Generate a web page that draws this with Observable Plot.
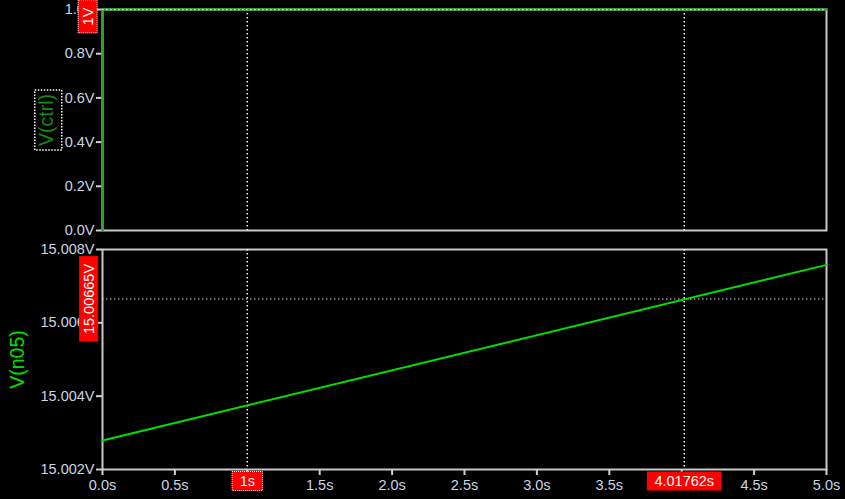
<!DOCTYPE html>
<html><head><meta charset="utf-8">
<script src="https://cdn.jsdelivr.net/npm/d3@7"></script>
<script src="https://cdn.jsdelivr.net/npm/@observablehq/plot@0.6"></script>
<style>
html,body{margin:0;padding:0;background:#000;}
#chart{position:relative;width:845px;height:499px;background:#000;overflow:hidden;}
#chart svg{position:absolute;left:0;display:block;}
</style></head><body><div id="chart"></div>
<script>
// ---- data ----
const timeCtrl = [0, 0, 5];
const valueCtrl = [0, 1, 1];
const timeN05 = [0, 5];
const valueN05 = [15.00279, 15.00758];
const cursorTimes = [1, 4.01762];
const cursorTimeLabels = ["1s", "4.01762s"];
const cursorCtrlValue = [1];
const cursorCtrlLabel = ["1V"];
const cursorN05Value = [15.00665];
const cursorN05Label = ["15.00665V"];
const selectedCursorLabels = ["1V", "1s"];
const timeTicks = [0, 0.5, 1, 1.5, 2, 2.5, 3, 3.5, 4, 4.5, 5];
const ctrlTicks = [0, 0.2, 0.4, 0.6, 0.8, 1.0];
const n05Ticks = [15.002, 15.004, 15.006, 15.008];
const ctrlName = ["V(ctrl)"];
const n05Name = ["V(n05)"];

// ---- styles ----
const FONT = "Liberation Sans";
const TICK_TEXT = "#c8d6e4";
const TICK_LINE = "#d0d0d0";
const FRAME = "#c8c8c8";
const CTRL_GREEN = "#33a033";
const CTRL_TITLE = "#168816";
const N05_GREEN = "#00e000";
const dotted = {stroke: "#ffffff", strokeWidth: 1.5, strokeDasharray: "1.5,2.5"};
const baseStyle = {background: "#000", color: TICK_TEXT, fontFamily: FONT, fontSize: "14.5px"};

const ctrlIdx = d3.range(timeCtrl.length);
const n05Idx = d3.range(timeN05.length);

const topPlot = Plot.plot({
  width: 845, height: 240,
  marginLeft: 102, marginRight: 19, marginTop: 9, marginBottom: 10,
  style: baseStyle,
  x: {domain: [0, 5], axis: null},
  y: {domain: [0, 1], axis: null},
  marks: [
    Plot.frame({stroke: FRAME, strokeWidth: 2}),
    Plot.axisY({ticks: ctrlTicks, tickFormat: d => d.toFixed(1) + "V", tickSize: 6, tickPadding: 2,
      stroke: TICK_LINE, strokeWidth: 2, fill: TICK_TEXT, label: null}),
    Plot.ruleX(cursorTimes, dotted),
    Plot.line(ctrlIdx, {x: i => timeCtrl[i], y: i => valueCtrl[i], stroke: CTRL_GREEN, strokeWidth: 2.5}),
    Plot.ruleY(cursorCtrlValue, {...dotted, strokeWidth: 1.2}),
    Plot.text(ctrlName, {frameAnchor: "left", dx: -56, rotate: -90, textAnchor: "middle",
      fill: CTRL_TITLE, fontSize: 19.5, ariaDescription: "title-selected"}),
    Plot.text(cursorCtrlLabel, {y: (d, i) => cursorCtrlValue[i], frameAnchor: "left", dx: -14.5, dy: 7,
      rotate: -90, textAnchor: "middle", fill: "white", ariaDescription: "cursor-label"})
  ]
});

const bottomPlot = Plot.plot({
  width: 845, height: 259,
  marginLeft: 102, marginRight: 19, marginTop: 9, marginBottom: 30,
  style: baseStyle,
  x: {domain: [0, 5], axis: null},
  y: {domain: [15.002, 15.008], axis: null},
  marks: [
    Plot.frame({stroke: FRAME, strokeWidth: 2}),
    Plot.axisY({ticks: n05Ticks, tickFormat: d => d.toFixed(3) + "V", tickSize: 6, tickPadding: 2,
      stroke: TICK_LINE, strokeWidth: 2, fill: TICK_TEXT, label: null}),
    Plot.axisX({ticks: timeTicks, tickFormat: d => d.toFixed(1) + "s", tickSize: 6, tickPadding: 4,
      stroke: TICK_LINE, strokeWidth: 2, fill: TICK_TEXT, label: null}),
    Plot.ruleX(cursorTimes, dotted),
    Plot.ruleY(cursorN05Value, {...dotted, stroke: "#d8d8d8", strokeWidth: 1.2}),
    Plot.line(n05Idx, {x: i => timeN05[i], y: i => valueN05[i], stroke: N05_GREEN, strokeWidth: 2}),
    Plot.text(n05Name, {frameAnchor: "left", dx: -84.5, rotate: -90, textAnchor: "middle",
      fill: N05_GREEN, fontSize: 19.5}),
    Plot.text(cursorN05Label, {y: (d, i) => cursorN05Value[i], frameAnchor: "left", dx: -13.5,
      rotate: -90, textAnchor: "middle", fill: "white", ariaDescription: "cursor-label"}),
    Plot.text(cursorTimeLabels, {x: (d, i) => cursorTimes[i], frameAnchor: "bottom", dy: 16.5,
      textAnchor: "middle", fill: "white", ariaDescription: "cursor-label"})
  ]
});

const chart = document.getElementById("chart");
topPlot.style.top = "0px";
bottomPlot.style.top = "240px";
chart.appendChild(topPlot);
chart.appendChild(bottomPlot);

const NS = "http://www.w3.org/2000/svg";
function sel(svg, name) {
  return svg.querySelectorAll(`g[aria-description="${name}"] text`);
}
function boxes(svg) {
  sel(svg, "cursor-label").forEach(t => {
    const b = t.getBBox();
    const r = document.createElementNS(NS, "rect");
    const padAlong = 7.5, padAcross = 2.5;
    r.setAttribute("x", b.x - padAlong);
    r.setAttribute("y", b.y + 1 - padAcross);
    r.setAttribute("width", b.width + 2 * padAlong);
    r.setAttribute("height", b.height - 2 + 2 * padAcross);
    r.setAttribute("fill", "#ff0000");
    if (selectedCursorLabels.includes(t.textContent)) {
      r.setAttribute("stroke", "#ffffff");
      r.setAttribute("stroke-dasharray", "1,1");
      r.setAttribute("stroke-width", "1");
    }
    if (t.getAttribute("transform")) r.setAttribute("transform", t.getAttribute("transform"));
    t.parentNode.insertBefore(r, t);
  });
  sel(svg, "title-selected").forEach(t => {
    const b = t.getBBox();
    const r = document.createElementNS(NS, "rect");
    r.setAttribute("x", b.x - 4);
    r.setAttribute("y", b.y);
    r.setAttribute("width", b.width + 8);
    r.setAttribute("height", b.height + 5);
    r.setAttribute("fill", "none");
    r.setAttribute("stroke", "#ffffff");
    r.setAttribute("stroke-width", "1.5");
    r.setAttribute("stroke-dasharray", "1.5,1.5");
    if (t.getAttribute("transform")) r.setAttribute("transform", t.getAttribute("transform"));
    t.parentNode.insertBefore(r, t);
  });
}
boxes(topPlot);
boxes(bottomPlot);
</script>
</body></html>
